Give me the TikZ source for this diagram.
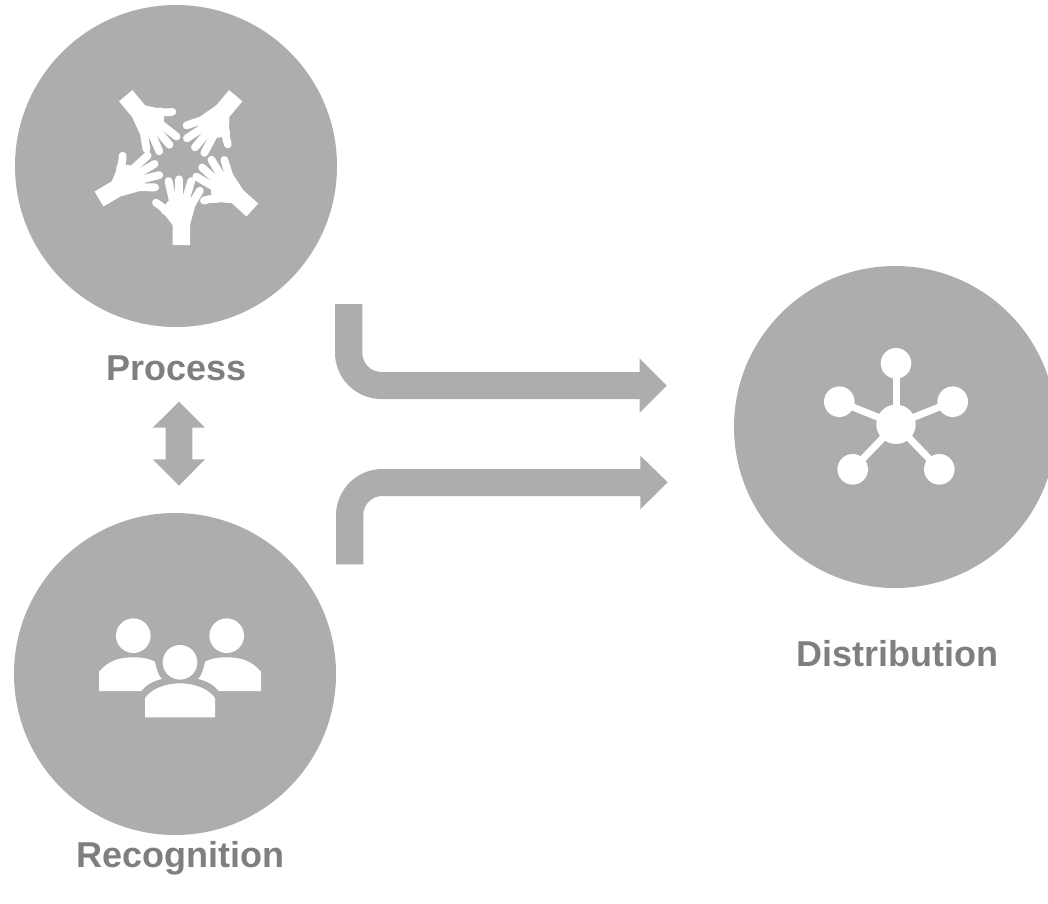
\documentclass[tikz,border=0pt]{standalone}
\usepackage{fontspec}
\setmainfont{Liberation Sans}
\definecolor{blockgray}{HTML}{ADADAD}
\definecolor{labelgray}{HTML}{7F7F7F}
\tikzset{
  x=1pt,y=-1pt,
  disc/.style={circle,fill=blockgray,draw=none,minimum size=322pt,inner sep=0pt},
  lbl/.style={font=\fontsize{36}{40}\selectfont\bfseries,text=labelgray,inner sep=0pt,anchor=base},
  blockarrow/.style={fill=blockgray,draw=none},
  whiteicon/.style={fill=white,draw=none},
  hub/.style={circle,fill=white,minimum size=39.4pt,inner sep=0pt},
  leaf/.style={circle,fill=white,minimum size=30.6pt,inner sep=0pt},
  spoke/.style={draw=white,line width=7pt},
  finger/.style={draw=white,line width=7.8pt,line cap=round,fill=none}
}
\newcommand{\myhand}[3]{%
  \begin{scope}[shift={(#1,#2)},rotate=#3]
    \fill[whiteicon] (-8.7,0) -- (-8.7,-20) -- (-19,-33.3) -- (-15,-42) -- (-7.3,-49) -- (7,-49) -- (15,-44) -- (12.3,-33.3) -- (8.7,-20) -- (8.7,0) -- cycle;
    \draw[finger] (-8,-41.7) -- (-12.7,-64);
    \draw[finger] (-2,-41.7) -- (-2,-65.7);
    \draw[finger] (3.3,-41.7) -- (10,-64);
    \draw[finger] (8,-36.7) -- (18.5,-54.3);
    \draw[finger] (-15.3,-33.3) .. controls (-18,-37) and (-20,-39) .. (-25.3,-42.3);
  \end{scope}}
\begin{document}
\begin{tikzpicture}
\useasboundingbox (0,0) rectangle (1048,903);
\clip (0,0) rectangle (1048,903);
% discs
\node[disc] (process) at (176,166) {};
\node[disc] (recognition) at (175,674) {};
\node[disc] (distribution) at (895,427) {};
% labels
\node[lbl] (processlabel) at (176.5,380) {Process};
\node[lbl] (recognitionlabel) at (180,867) {Recognition};
\node[lbl] (distributionlabel) at (897,666) {Distribution};
% block arrows
\fill[blockarrow] (335,304) -- (362.3,304) -- (362.3,353) arc[start angle=180,end angle=90,radius=19] -- (639.7,372) -- (639.7,358.7) -- (666.7,385.7) -- (639.7,412.7) -- (639.7,399) -- (381.3,399) arc[start angle=90,end angle=180,radius=46.3] -- cycle;
\fill[blockarrow] (336,564.3) -- (363.3,564.3) -- (363.3,515) arc[start angle=180,end angle=270,radius=19] -- (640.3,496) -- (640.3,509.3) -- (667.7,482.3) -- (640.3,455.7) -- (640.3,469) -- (382.3,469) arc[start angle=270,end angle=180,radius=46.3] -- cycle;
\fill[blockarrow] (179,401.7) -- (205,427.7) -- (192.3,427.7) -- (192.3,459.3) -- (205,459.3) -- (179,485.7) -- (152.7,459.3) -- (165.7,459.3) -- (165.7,427.7) -- (152.7,427.7) -- cycle;
% hands
\myhand{181.3}{245}{0}
\myhand{252.3}{210}{48}
\myhand{235.7}{95.7}{140}
\myhand{125.7}{95.7}{-140}
\myhand{99}{199}{-59.5}
% people
\fill[whiteicon] (133.3,635.7) circle[radius=17.3];
\fill[whiteicon] (226.7,635.7) circle[radius=17.3];
\fill[whiteicon] (180,662.3) circle[radius=17.3];
\fill[whiteicon] (99,691) -- (99,671.7) .. controls (109,660) and (120,657.3) .. (133.3,657.3) .. controls (143.3,657.3) and (150,659) .. (155,661.7) .. controls (156,668.3) and (158.3,675) .. (161.7,679) .. controls (153,681) and (146,685) .. (141,691) -- cycle;
\fill[whiteicon] (261,691) -- (261,671.7) .. controls (251,660) and (240,657.3) .. (226.7,657.3) .. controls (216.7,657.3) and (210,659) .. (205,661.7) .. controls (204,668.3) and (201.7,675) .. (198.3,679) .. controls (207,681) and (214,685) .. (219,691) -- cycle;
\fill[whiteicon] (145,717.3) -- (145,698.3) .. controls (150,690) and (164,683.3) .. (180,683.3) .. controls (196,683.3) and (210,690) .. (215,698.3) -- (215,717.3) -- cycle;
% network
\node[leaf] (n1) at (896,363.3) {};
\node[leaf] (n2) at (839.3,401.7) {};
\node[leaf] (n3) at (952.7,401.7) {};
\node[leaf] (n4) at (852.7,469.3) {};
\node[leaf] (n5) at (939.3,469.3) {};
\node[hub] (hubnode) at (896,424.3) {};
\foreach \n in {n1,n2,n3,n4,n5} \draw[spoke] (hubnode.center) -- (\n.center);
\end{tikzpicture}
\end{document}
